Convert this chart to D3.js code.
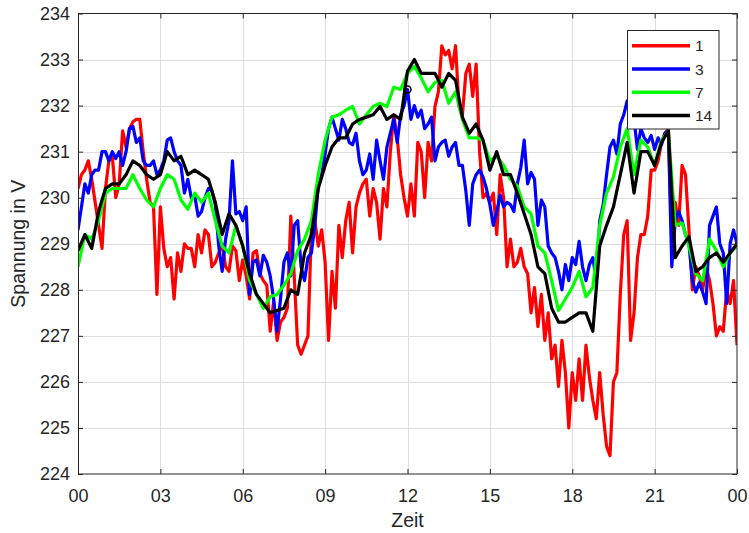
<!DOCTYPE html>
<html>
<head>
<meta charset="utf-8">
<script src="https://cdn.jsdelivr.net/npm/d3@7"></script>
<style>
body{margin:0;background:#fff;}
svg{display:block;font-family:"Liberation Sans",Arial,Helvetica,sans-serif;}
</style>
</head>
<body>
<div id="chart"></div>
<script>
// Reihen 1 und 3: alle 7,5 min (193 Werte); Reihen 7 und 14: alle 15 min (97 Werte)
const red1 = [230.2,230.5,230.6,230.8,230.4,229.9,229.4,228.9,230.2,230.8,230.9,230.0,230.3,231.45,231.1,231.5,231.65,231.7,231.7,231.0,230.4,229.9,229.8,227.9,229.8,228.9,228.5,228.7,227.8,228.8,228.4,229.0,228.9,
  228.9,228.5,229.2,228.8,229.3,229.2,228.5,228.6,228.8,229.0,228.5,228.4,228.95,228.85,228.2,228.65,228.3,227.8,228.8,228.85,228.35,228.2,228.1,227.1,227.75,226.9,227.3,227.4,227.6,229.6,228.3,226.8,
  226.6,226.8,227.0,229.3,229.5,228.95,229.3,228.6,226.9,228.4,227.6,229.4,228.7,229.5,229.9,228.8,229.8,230.1,230.3,230.4,229.6,230.2,229.9,229.1,230.2,229.8,231.0,231.8,231.3,230.5,230.0,229.6,
  230.3,229.6,231.2,231.0,230.0,231.2,230.8,231.98,232.3,233.3,233.1,233.2,232.8,233.3,231.98,231.8,232.7,232.9,232.2,232.9,231.0,230.0,230.1,229.9,230.1,229.2,230.5,230.0,228.5,229.1,228.5,228.6,
  228.9,228.5,228.35,227.5,228.05,227.2,227.9,226.9,227.5,226.5,226.8,225.9,226.9,226.2,225.0,226.2,225.6,226.5,225.6,226.8,226.1,225.6,225.2,226.2,225.3,224.6,224.4,226.0,226.2,227.9,229.2,229.5,
  226.9,227.5,228.7,229.2,229.2,229.6,230.6,230.6,230.8,231.2,231.4,231.5,229.0,229.9,229.4,230.7,230.5,229.3,228.0,228.5,228.3,228.0,228.5,228.2,227.7,227.0,227.2,227.1,228.0,227.7,228.2,226.8];
const blue3 = [229.3,229.8,230.3,230.1,230.5,230.6,230.6,231.0,231.0,230.8,231.0,230.85,231.0,230.7,231.0,231.5,231.55,231.2,231.3,230.8,230.7,230.7,230.8,230.5,230.6,230.8,231.25,231.3,231.0,230.8,230.7,230.1,230.4,
  230.0,230.05,229.6,229.7,230.0,230.2,230.15,229.85,228.95,228.4,229.1,229.5,230.8,229.65,229.7,229.5,229.8,227.9,228.6,228.65,228.3,228.75,228.6,228.3,227.8,227.1,227.8,228.6,228.8,228.3,229.4,229.5,
  228.5,228.2,228.7,228.8,229.4,230.25,230.5,230.95,231.5,231.75,231.5,231.25,231.7,231.5,231.2,231.15,231.4,230.8,230.5,230.6,230.95,230.4,231.25,230.8,230.4,231.1,231.4,231.7,231.2,231.8,232.0,232.35,
  231.7,232.0,231.75,231.9,231.5,231.6,231.75,230.8,231.1,231.2,231.25,230.9,231.1,231.2,230.7,230.7,230.15,229.4,230.3,230.5,230.6,230.45,230.2,229.85,229.4,229.7,230.05,229.8,229.9,229.85,229.7,230.3,
  230.65,231.25,230.3,230.55,230.4,229.4,229.95,229.8,228.95,228.8,228.7,228.4,228.0,228.55,228.2,228.7,228.55,229.05,228.5,228.2,228.55,228.7,228.2,229.5,229.85,230.5,231.1,231.25,230.95,231.6,231.8,232.1,
  231.9,231.7,231.05,231.5,231.3,231.2,231.35,231.05,231.3,231.15,231.4,231.45,228.5,229.5,229.7,229.5,229.2,229.0,228.2,227.95,228.15,227.95,227.7,229.4,229.6,229.8,229.0,228.8,227.7,229.0,229.3,229.0];
const green7 = [228.5,229.2,229.1,229.5,230.1,230.2,230.2,230.2,230.5,230.2,229.95,229.8,230.2,230.5,230.4,229.95,229.75,
  230.1,229.9,230.1,229.5,228.95,228.8,229.4,228.95,228.2,227.9,227.6,227.85,227.9,228.1,228.35,228.85,
  229.1,229.5,230.5,231.25,231.75,231.8,231.9,231.98,231.6,231.8,231.98,232.05,231.98,232.4,232.35,232.7,
  232.85,232.6,232.3,232.5,232.55,232.05,232.3,231.7,231.3,231.3,231.25,230.8,230.9,230.7,230.4,230.25,
  229.8,229.65,228.95,228.8,228.2,227.55,227.8,228.05,228.4,227.85,228.05,229.4,230.1,230.45,231.1,231.5,
  230.5,231.25,231.1,230.7,231.25,231.45,229.4,229.45,228.95,228.35,228.2,229.1,228.85,228.5,228.8,228.95];
const black14 = [228.85,229.2,228.9,229.7,230.2,230.3,230.3,230.5,230.8,230.7,230.5,230.4,230.5,231.0,230.8,230.9,230.5,
  230.6,230.5,230.4,229.9,229.2,229.65,229.4,228.95,228.35,227.9,227.7,227.5,227.55,227.6,228.0,227.9,
  228.8,229.2,230.2,230.7,231.1,231.3,231.3,231.6,231.7,231.75,231.8,231.98,231.7,231.8,231.7,232.75,
  233.0,232.7,232.7,232.7,232.4,232.7,232.55,231.75,231.4,231.6,231.25,230.6,231.0,230.5,230.5,230.1,
  229.65,229.2,228.5,228.35,227.6,227.3,227.3,227.4,227.5,227.5,227.1,228.95,229.4,229.8,230.5,231.2,
  230.1,231.0,231.0,230.7,231.2,231.45,228.7,228.95,229.15,228.4,228.5,228.7,228.8,228.6,228.8,229.0];

const seriesNames = ["1","3","7","14"];
const seriesColors = ["#ff0000","#0000ff","#00ff00","#000000"];
const seriesData = [red1, blue3, green7, black14];
const seriesStep = [0.125, 0.125, 0.25, 0.25]; // Stunden zwischen Werten

const xTicks = [0,3,6,9,12,15,18,21,24];
const xTickLabels = ["00","03","06","09","12","15","18","21","00"];
const yTicks = [224,225,226,227,228,229,230,231,232,233,234];
const markerIndex = 96; // kleiner Kreis auf Reihe 3 um 12 Uhr

const W = 749, H = 533;
const L = 78, R = 737, T = 13.5, B = 474;
const ink = "#262626";

const svg = d3.select("#chart").append("svg").attr("width", W).attr("height", H);

const x = d3.scaleLinear().domain([0,24]).range([L,R]);
const y = d3.scaleLinear().domain([224,234]).range([B,T]);

// grid
svg.append("g").selectAll("line").data(xTicks.slice(1,-1)).join("line")
  .attr("x1", d=>Math.round(x(d))+0.5).attr("x2", d=>Math.round(x(d))+0.5)
  .attr("y1", T).attr("y2", B)
  .attr("stroke", "#dedede").attr("stroke-width", 1);
svg.append("g").selectAll("line").data(yTicks.slice(1,-1)).join("line")
  .attr("y1", d=>Math.round(y(d))+0.5).attr("y2", d=>Math.round(y(d))+0.5)
  .attr("x1", L).attr("x2", R)
  .attr("stroke", "#dedede").attr("stroke-width", 1);

svg.append("clipPath").attr("id","plot").append("rect")
  .attr("x", L).attr("y", T).attr("width", R-L).attr("height", B-T);

svg.append("g").attr("clip-path","url(#plot)")
  .selectAll("path").data(seriesData).join("path")
  .attr("d", (d,k)=>d3.line().x((v,i)=>x(i*seriesStep[k])).y(v=>y(v))(d))
  .attr("fill","none")
  .attr("stroke", (d,i)=>seriesColors[i])
  .attr("stroke-width", 3.2)
  .attr("stroke-linejoin","round");

// marker
svg.append("circle")
  .attr("cx", x(markerIndex*seriesStep[1])).attr("cy", y(blue3[markerIndex]))
  .attr("r", 3.5).attr("fill","none")
  .attr("stroke", "#000").attr("stroke-width", 1.5);

// axes (ticks inward)
const fontSize = 18;
const styleAxis = g => {
  g.select(".domain").remove();
  g.selectAll(".tick line").attr("stroke", ink);
  g.selectAll(".tick text").attr("fill", ink).style("font-size", fontSize+"px");
};
svg.append("g").attr("transform",`translate(0,${B})`)
  .call(d3.axisBottom(x).tickValues(xTicks).tickFormat((d,i)=>xTickLabels[i]).tickSizeInner(-5).tickSizeOuter(0).tickPadding(15.5))
  .call(styleAxis);
svg.append("g").attr("transform",`translate(0,${T})`)
  .call(d3.axisTop(x).tickValues(xTicks).tickFormat("").tickSizeInner(-5).tickSizeOuter(0))
  .call(styleAxis);
svg.append("g").attr("transform",`translate(${L},0)`)
  .call(d3.axisLeft(y).tickValues(yTicks).tickFormat(d3.format("d")).tickSizeInner(-5).tickSizeOuter(0).tickPadding(8))
  .call(styleAxis);
svg.append("g").attr("transform",`translate(${R},0)`)
  .call(d3.axisRight(y).tickValues(yTicks).tickFormat("").tickSizeInner(-5).tickSizeOuter(0))
  .call(styleAxis);

svg.append("rect")
  .attr("x", L+0.5).attr("y", T).attr("width", R-L-0.5).attr("height", B-T)
  .attr("fill","none").attr("stroke", ink).attr("stroke-width", 1);

// labels
svg.append("text")
  .attr("x", (L+R)/2).attr("y", 527)
  .attr("text-anchor","middle").attr("fill", ink)
  .style("font-size","19.5px").text("Zeit");
svg.append("text")
  .attr("transform", `translate(25,${(T+B)/2}) rotate(-90)`)
  .attr("text-anchor","middle").attr("fill", ink)
  .style("font-size","19.5px").text("Spannung in V");

// legend
const lg = svg.append("g");
lg.append("rect")
  .attr("x", 627.5).attr("y", 30.5).attr("width", 91.5).attr("height", 98.5)
  .attr("fill","#fff").attr("stroke", ink).attr("stroke-width", 1);
const items = lg.selectAll("g.item").data(seriesNames).join("g")
  .attr("class","item")
  .attr("transform", (d,i)=>`translate(0,${45.7 + i*23.3})`);
items.append("line")
  .attr("x1", 632).attr("x2", 690)
  .attr("stroke", (d,i)=>seriesColors[i]).attr("stroke-width", 3.5);
items.append("text")
  .attr("x", 695).attr("dy","0.36em")
  .attr("fill", ink).style("font-size","15.5px")
  .text(d=>d);
</script>
</body>
</html>
